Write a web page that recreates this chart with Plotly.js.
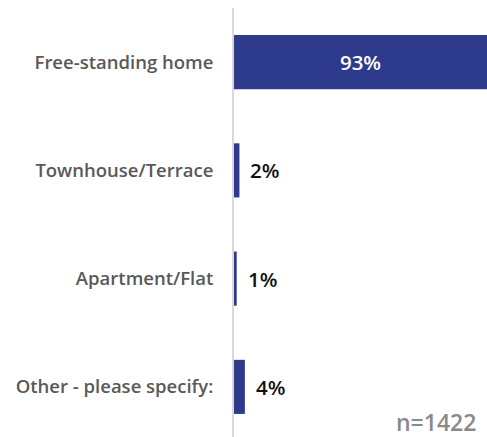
<!DOCTYPE html>
<html>
<head>
<meta charset="utf-8">
<script src="https://cdn.plot.ly/plotly-3.0.1.min.js"></script>
<style>html,body{margin:0;padding:0;background:#fff;}#chart{width:487px;height:437px;}</style>
</head>
<body>
<div id="chart"></div>
<script>
const categories = ["Free-standing home", "Townhouse/Terrace", "Apartment/Flat", "Other - please specify:"];
const values = [93, 2, 1, 4];
const valueLabels = ["93%", "2%", "1%", "4%"];
const sampleNote = "n=1422";

const barColor = "#2e3a8c";
const insideIdx = values.map(v => v > 20);

const trace = {
  type: "bar",
  orientation: "h",
  y: categories,
  x: values,
  marker: {color: barColor},
  width: 0.5,
  text: valueLabels.map((t, i) => insideIdx[i] ? t : ""),
  textposition: "inside",
  insidetextanchor: "middle",
  textfont: {family: "Open Sans", size: 20.5, color: "#ffffff", weight: 600},
  hoverinfo: "none",
  cliponaxis: false
};

const annotations = values.map((v, i) => insideIdx[i] ? null : ({
  x: v, y: categories[i], xref: "x", yref: "y",
  text: valueLabels[i],
  showarrow: false, xanchor: "left", yanchor: "middle", xshift: 9,
  font: {family: "Open Sans", size: 20.5, color: "#111111", weight: 600}
})).filter(a => a);

annotations.push({
  x: 1, y: 0, xref: "paper", yref: "paper",
  xanchor: "right", yanchor: "bottom", xshift: -9, yshift: -3,
  text: sampleNote,
  showarrow: false,
  font: {family: "Open Sans", size: 23, color: "#8a8a8a", weight: 600}
});

const layout = {
  width: 487, height: 437,
  margin: {l: 234, r: 0, t: 8, b: 0, pad: 0},
  paper_bgcolor: "#ffffff", plot_bgcolor: "#ffffff",
  showlegend: false,
  font: {family: "Open Sans"},
  xaxis: {range: [0, 93], visible: false, fixedrange: true},
  yaxis: {
    categoryorder: "array", categoryarray: categories,
    autorange: false, range: [3.463, -0.5],
    showline: true, linecolor: "#d9d9d9", linewidth: 2,
    showgrid: false, zeroline: false,
    ticks: "outside", ticklen: 15, tickcolor: "rgba(0,0,0,0)",
    tickfont: {family: "Open Sans", size: 18.5, color: "#595959", weight: 600},
    fixedrange: true
  },
  annotations: annotations
};

Plotly.newPlot("chart", [trace], layout, {displayModeBar: false, staticPlot: true});
</script>
</body>
</html>
